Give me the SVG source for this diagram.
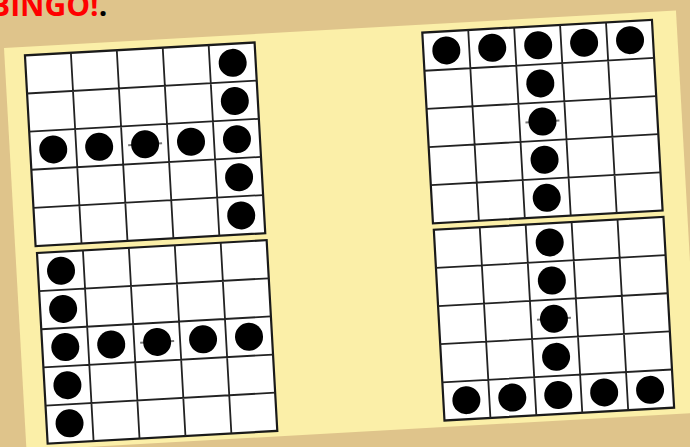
<svg xmlns="http://www.w3.org/2000/svg" xmlns:xlink="http://www.w3.org/1999/xlink" width="690" height="447" viewBox="0 0 690 447">
<style>
.grid-bg{fill:#ffffff;stroke:#1a1a1a;stroke-width:2.2}
.grid-lines{fill:none;stroke:#222222;stroke-width:1.8}
.dot{fill:#000000}
.mark{stroke:#777777;stroke-width:2}
.title{font-family:"Open Sans","Liberation Sans",sans-serif;font-weight:bold;font-size:30px}
</style>
<defs>
<g id="grid">
<rect class="grid-bg" x="0" y="0" width="230" height="191"/>
<path class="grid-lines" d="M46 0V191M92 0V191M138 0V191M184 0V191M0 38.2H230M0 76.4H230M0 114.6H230M0 152.8H230"/>
</g>
<circle id="d" class="dot" r="14"/>
</defs>
<rect x="0" y="0" width="690" height="447" fill="#dfc48b"/>
<text class="title" x="-10" y="15.5"><tspan fill="#ff0000">BINGO!</tspan><tspan fill="#000000">.</tspan></text>
<g id="paper" transform="translate(4,48) rotate(-3.2)">
<rect x="0" y="0" width="673" height="403" fill="#fbefa8"/>
<g id="card-top-left" transform="translate(20.5,8.5)">
<use xlink:href="#grid"/>
<line class="mark" x1="98" y1="95.5" x2="132" y2="95.5"/>
<use xlink:href="#d" x="23" y="95.5"/><use xlink:href="#d" x="69" y="95.5"/><use xlink:href="#d" x="115" y="95.5"/><use xlink:href="#d" x="161" y="95.5"/>
<use xlink:href="#d" x="207" y="19.1"/><use xlink:href="#d" x="207" y="57.3"/><use xlink:href="#d" x="207" y="95.5"/><use xlink:href="#d" x="207" y="133.7"/><use xlink:href="#d" x="207" y="171.9"/>
</g>
<g id="card-bottom-left" transform="translate(21.5,206.5)">
<use xlink:href="#grid"/>
<line class="mark" x1="98" y1="95.5" x2="132" y2="95.5"/>
<use xlink:href="#d" x="23" y="19.1"/><use xlink:href="#d" x="23" y="57.3"/><use xlink:href="#d" x="23" y="95.5"/><use xlink:href="#d" x="23" y="133.7"/><use xlink:href="#d" x="23" y="171.9"/>
<use xlink:href="#d" x="69" y="95.5"/><use xlink:href="#d" x="115" y="95.5"/><use xlink:href="#d" x="161" y="95.5"/><use xlink:href="#d" x="207" y="95.5"/>
</g>
<g id="card-top-right" transform="translate(418.5,8)">
<use xlink:href="#grid"/>
<line class="mark" x1="98" y1="95.5" x2="132" y2="95.5"/>
<use xlink:href="#d" x="23" y="19.1"/><use xlink:href="#d" x="69" y="19.1"/><use xlink:href="#d" x="115" y="19.1"/><use xlink:href="#d" x="161" y="19.1"/><use xlink:href="#d" x="207" y="19.1"/>
<use xlink:href="#d" x="115" y="57.3"/><use xlink:href="#d" x="115" y="95.5"/><use xlink:href="#d" x="115" y="133.7"/><use xlink:href="#d" x="115" y="171.9"/>
</g>
<g id="card-bottom-right" transform="translate(419,205.5)">
<use xlink:href="#grid"/>
<line class="mark" x1="98" y1="95.5" x2="132" y2="95.5"/>
<use xlink:href="#d" x="115" y="19.1"/><use xlink:href="#d" x="115" y="57.3"/><use xlink:href="#d" x="115" y="95.5"/><use xlink:href="#d" x="115" y="133.7"/>
<use xlink:href="#d" x="23" y="171.9"/><use xlink:href="#d" x="69" y="171.9"/><use xlink:href="#d" x="115" y="171.9"/><use xlink:href="#d" x="161" y="171.9"/><use xlink:href="#d" x="207" y="171.9"/>
</g>
</g>
</svg>
